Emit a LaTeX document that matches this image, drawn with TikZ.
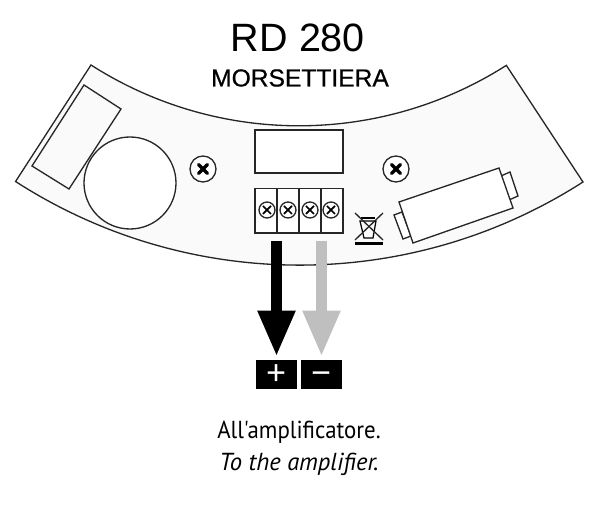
\documentclass[tikz,border=0pt]{standalone}
\usepackage{fontspec}
\setmainfont{Liberation Sans}
\newfontfamily\subtitlefont[FakeBold=.6]{Liberation Sans}
\newfontfamily\notefont[FakeStretch=.93]{PT Sans}
\newfontfamily\noteitfont{PT Sans}
\newfontfamily\polefont{Noto Sans}
\usetikzlibrary{arrows.meta}
\tikzset{
  line/.style={draw=black!85, line width=.75pt},
  screw/.style={line, fill=white},
  cross/.style={line width=1.9pt, line cap=round},
  thincross/.style={line width=1pt},
  polebox/.style={fill=black, text=white, minimum width=.82cm, minimum height=.58cm, inner sep=0pt, text height=12pt, text depth=0pt, font=\polefont\fontsize{20}{20}\selectfont},
  polearrow/.style={line width=.22cm, -{Triangle[length=.92cm, width=.7cm]}, shorten >=.06cm, shorten <=.14cm},
}
\begin{document}
\begin{tikzpicture}[x=.02cm, y=-.02cm]

%definitions
\def\boardshape{(91,65) arc [start angle=122.6, end angle=57.5, radius=386] -- (583,182) arc [start angle=57.3, end angle=122.8, radius=524.5] -- cycle}

\def\bigscrew#1{
\draw[screw] (#1) circle (13);
\draw[cross] ([shift={(-4.5,-4.5)}]#1) -- ([shift={(4.5,4.5)}]#1);
\draw[cross] ([shift={(-4.5,4.5)}]#1) -- ([shift={(4.5,-4.5)}]#1);
}

\def\smallscrew#1{
\draw[line, fill=white] (#1) circle (8);
\draw[thincross] ([shift={(-4,-4)}]#1) -- ([shift={(4,4)}]#1);
\draw[thincross] ([shift={(-4,4)}]#1) -- ([shift={(4,-4)}]#1);
}

\useasboundingbox (0,0) rectangle (600,509);

%board
\draw[line, fill=black!2] \boardshape;
\draw[line] (84,85) -- (121,109) -- (69,189) -- (32,166) -- cycle;
\draw[line, fill=white] (130,183) circle (46);

%display
\draw[line, fill=white] (255,130) rectangle (343,173);

%terminal block
\node[line, fill=white, minimum width=1.76cm, minimum height=.89cm, inner sep=0pt] (terminal) at (299,210.75) {};
\foreach \x in {277,299,321}
  \draw[line] (\x,188.5) -- (\x,233);
\foreach \x in {267,288,310,331}{
  \smallscrew{\x,210}
}

\bigscrew{203,169}
\bigscrew{396,169}

%battery
\draw[line, fill=white] (501,176) -- (510,172) -- (518,196) -- (509,200) -- cycle;
\draw[line, fill=white] (394,215) -- (402,212) -- (411,236) -- (403,239) -- cycle;
\draw[line, fill=white] (399,202) -- (499,168) -- (513,208) -- (413,243) -- cycle;

%bin
\draw[line width=.7pt] (360,221) -- (376,221) -- (373,238) -- (364,238) -- cycle;
\draw[line width=.7pt] (361,218) -- (375,218);
\draw[line] (355,213) -- (383,240);
\draw[line] (383,213) -- (355,240);
\draw[line width=1.3pt] (355,243.5) -- (383,243.5);

%poles
\node[polebox] (plusbox) at (276.5,374.5) {+};
\node[polebox] (minusbox) at (321.5,374.5) {−};

\draw[polearrow, draw=black, fill=black] (plusbox |- terminal.south) -- (plusbox.north);
\draw[polearrow, draw=black!25, fill=black!25] (minusbox |- terminal.south) -- (minusbox.north);

%labels
\node[font=\fontsize{22.5}{22.5}\selectfont] (title) at (298,38) {RD 280};
\node[font=\subtitlefont\fontsize{14}{14}\selectfont] (subtitle) at (300,78) {MORSETTIERA};
\node[font=\notefont\fontsize{14}{14}\selectfont] (note) at (299,432.5) {All'amplificatore.};
\node[font=\noteitfont\itshape\fontsize{14}{14}\selectfont] (noteen) at (299,464.5) {To the amplifier.};
\end{tikzpicture}
\end{document}
